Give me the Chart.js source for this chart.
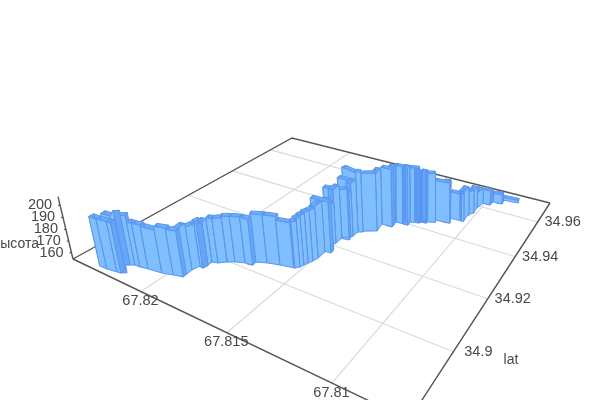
<!DOCTYPE html>
<html><head><meta charset="utf-8"><style>html,body{margin:0;padding:0;background:#fff}canvas{display:block}</style>
<script src="https://cdn.jsdelivr.net/npm/chart.js@4"></script></head><body>
<canvas id="c" width="600" height="400"></canvas>
<script>
const lonOffset=[2346,2269,2317,2269,2210,2188,2227,2183,2151,2106,2027,1972,1922,1927,1918,1895,1892,1893,1863,1833,1801,1755,1713,1720,1667,
1605,1531,1516,1510,1503,1493,1486,1487,1491,1484,1484,1459,1446,1445,1423,1552,1457,1568,1444,1544,1448,1538,1445,1432,1367,
1378,1320,1326,1258,1263,1218,1214,1187,1187,1151,1160,1085,1101,1039,1030,1031,1016,1018,1010,969,967,917,927,845];
const latOffset=[858,863,816,817,822,824,851,865,866,871,877,886,893,925,948,945,961,976,981,996,1007,1017,1020,1033,1046,
1056,1065,1075,1087,1100,1113,1131,1163,1200,1213,1242,1257,1266,1291,1298,1163,1167,1232,1244,1283,1284,1303,1291,1300,1323,
1362,1363,1392,1395,1413,1421,1429,1431,1438,1449,1459,1465,1492,1493,1496,1534,1553,1586,1624,1623,1646,1648,1673,1678];
const height=[191,193,196,196,196,200,196,191,191,190,193,192,193,190,191,193,191,192,192,193,193,193,193,195,195,
192,193,195,196,197,197,198,195,190,201,197,194,201,208,210,198,196,197,198,200,199,207,211,206,205,
206,206,206,206,204,202,201,200,199,198,191,190,179,180,181,176,175,169,168,166,163,162,157,156];
const breaksAfter=[1,39,41,43,45,47];
const lonTicks=[67.81,67.815,67.82],latTicks=[34.9,34.92,34.94,34.96],zTicks=[160,170,180,190,200];
const lonRange=[67.80694,67.82475],latRange=[34.88,34.9728],zRange=[154.5,207];
// camera: floor corners and the vanishing point of the vertical axis
const corners={F:[409,420],A:[73,259],R:[550,203],B:[292,138]};
const VP=[420,1700],lam=-0.0594;
const {F,A,R,B}=corners;
const dx1=A[0]-B[0],dx2=R[0]-B[0],sx=F[0]-A[0]+B[0]-R[0],dy1=A[1]-B[1],dy2=R[1]-B[1],sy=F[1]-A[1]+B[1]-R[1];
const den=dx1*dy2-dx2*dy1,g=(sx*dy2-dx2*sy)/den,h=(dx1*sy-sx*dy1)/den;
const ax=A[0]-F[0]+g*A[0],bx=R[0]-F[0]+h*R[0],ay=A[1]-F[1]+g*A[1],by=R[1]-F[1]+h*R[1];
function pUV(u,v,w){const d=g*u+h*v+1+w*lam;return {x:(ax*u+bx*v+F[0]+w*lam*VP[0])/d,y:(ay*u+by*v+F[1]+w*lam*VP[1])/d};}
function proj(lon,lat,z){return pUV((lon-lonRange[0])/(lonRange[1]-lonRange[0]),(lat-latRange[0])/(latRange[1]-latRange[0]),(z-zRange[0])/(zRange[1]-zRange[0]));}
const pts=lonOffset.map((l,i)=>({u:(67.8+l/1e5-lonRange[0])/(lonRange[1]-lonRange[0]),v:(34.8+latOffset[i]/1e4-latRange[0])/(latRange[1]-latRange[0]),w:(height[i]-zRange[0])/(zRange[1]-zRange[0])}));
const ds=[];
function poly(points,fillC,lineC,lw){ds.push({data:points.map(p=>({x:p.x,y:p.y})),showLine:true,pointRadius:0,borderColor:lineC,borderWidth:lw,backgroundColor:fillC,fill:fillC?'shape':false,tension:0});}
const [lo0,lo1]=lonRange,[la0,la1]=latRange,[z0,z1]=zRange;
const gridC='#dadada',edge='#555';
lonTicks.forEach(l=>poly([proj(l,la0,z0),proj(l,la1,z0)],null,gridC,1.2));
latTicks.forEach(l=>poly([proj(lo0,l,z0),proj(lo1,l,z0)],null,gridC,1.2));
poly([proj(lo1,la0,z0),proj(lo1,la1,z0),proj(lo0,la1,z0)],null,edge,1.4);
poly([proj(lo1,la0,z0),proj(lo0,la0,z0),proj(lo0,la1,z0)],null,edge,1.4);
poly([proj(lo1,la0,z0),proj(lo1,la0,z1)],null,edge,1.4);
zTicks.forEach(t=>{const p=proj(lo1,la0,t);poly([p,{x:p.x-2,y:p.y}],null,edge,1.2);});
const panels=[];
for(let i=0;i<pts.length-1;i++){if(breaksAfter.includes(i))continue;const a=pts[i],b=pts[i+1];const du=b.u-a.u,dv=b.v-a.v;const L=Math.hypot(du,dv)||1;let nu=-dv/L,nv=du/L;if(g*nu+h*nv<0){nu=-nu;nv=-nv;}
 const W=0.016;panels.push({a,b,nu:nu*W,nv:nv*W,w:a.w,d:g*(a.u+b.u)/2+h*(a.v+b.v)/2});}
panels.sort((p,q)=>q.d-p.d);
const face='#80bfff',topC='#6cadfb',side='#66a6f9',ln='#5a96f0';
panels.forEach(p=>{const {a,b,nu,nv,w}=p;
 const a0=pUV(a.u,a.v,0),b0=pUV(b.u,b.v,0),a1=pUV(a.u,a.v,w),b1=pUV(b.u,b.v,w);
 const A0=pUV(a.u+nu,a.v+nv,0),B0=pUV(b.u+nu,b.v+nv,0),A1=pUV(a.u+nu,a.v+nv,w),B1=pUV(b.u+nu,b.v+nv,w);
 poly([a1,b1,B1,A1,a1],topC,ln,1);
 poly([a0,a1,A1,A0,a0],side,ln,1);
 poly([b0,b1,B1,B0,b0],side,ln,1);
 poly([a0,b0,b1,a1,a0],face,ln,1);
});
ds.reverse();
const txt={id:'t',afterDraw(c){const x=c.ctx;x.save();x.fillStyle='#484848';x.font='14.5px "Liberation Sans"';x.textBaseline='middle';x.textAlign='center';
 lonTicks.forEach(l=>{const p=proj(l,la0,z0);x.fillText(String(l),p.x-0.5,p.y+9.5);});
 latTicks.forEach(l=>{const p=proj(lo0,l,z0);x.fillText(String(l),p.x+25,p.y);});
 zTicks.forEach(l=>{const p=proj(lo1,la0,l);x.fillText(String(l),p.x-20,p.y);});
 x.font='14px "Liberation Sans"';x.textAlign='right';x.fillText('высота',39,244);x.textAlign='center';x.fillText('lat',511,360);x.restore();}};
new Chart(document.getElementById('c'),{type:'scatter',data:{datasets:ds},plugins:[txt],options:{responsive:false,animation:false,events:[],layout:{padding:0},plugins:{legend:{display:false},tooltip:{enabled:false}},scales:{x:{type:'linear',min:0,max:600,display:false},y:{type:'linear',min:0,max:400,reverse:true,display:false}}}});
</script></body></html>
